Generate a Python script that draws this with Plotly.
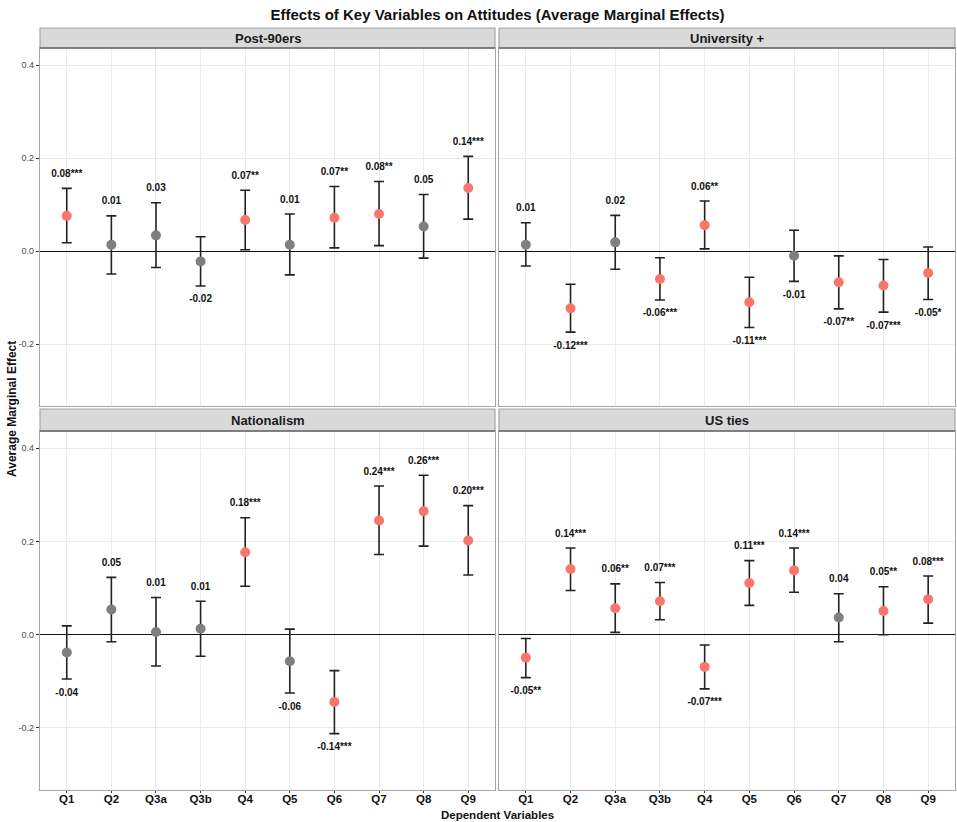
import plotly.graph_objects as go

categories = ["Q1", "Q2", "Q3a", "Q3b", "Q4", "Q5", "Q6", "Q7", "Q8", "Q9"]
panel_titles = ["Post-90ers", "University +", "Nationalism", "US ties"]

post90_est = [0.076, 0.014, 0.034, -0.022, 0.067, 0.014, 0.072, 0.080, 0.053, 0.136]
post90_lo = [0.018, -0.049, -0.035, -0.075, 0.003, -0.051, 0.007, 0.012, -0.015, 0.069]
post90_hi = [0.135, 0.076, 0.104, 0.031, 0.131, 0.080, 0.139, 0.150, 0.122, 0.204]
post90_lab = ["0.08***", "0.01", "0.03", "-0.02", "0.07**", "0.01", "0.07**", "0.08**", "0.05", "0.14***"]

univ_est = [0.014, -0.123, 0.019, -0.060, 0.056, -0.110, -0.010, -0.067, -0.074, -0.047]
univ_lo = [-0.032, -0.174, -0.039, -0.105, 0.005, -0.164, -0.065, -0.124, -0.131, -0.104]
univ_hi = [0.061, -0.071, 0.077, -0.014, 0.108, -0.056, 0.045, -0.010, -0.018, 0.009]
univ_lab = ["0.01", "-0.12***", "0.02", "-0.06***", "0.06**", "-0.11***", "-0.01", "-0.07**", "-0.07***", "-0.05*"]

nat_est = [-0.038, 0.054, 0.006, 0.013, 0.177, -0.057, -0.144, 0.245, 0.265, 0.202]
nat_lo = [-0.095, -0.015, -0.067, -0.046, 0.104, -0.125, -0.212, 0.172, 0.190, 0.128]
nat_hi = [0.019, 0.123, 0.080, 0.072, 0.251, 0.012, -0.077, 0.319, 0.342, 0.277]
nat_lab = ["-0.04", "0.05", "0.01", "0.01", "0.18***", "-0.06", "-0.14***", "0.24***", "0.26***", "0.20***"]

us_est = [-0.049, 0.141, 0.057, 0.072, -0.069, 0.111, 0.138, 0.037, 0.051, 0.076]
us_lo = [-0.092, 0.095, 0.005, 0.032, -0.116, 0.063, 0.091, -0.015, 0.000, 0.025]
us_hi = [-0.008, 0.186, 0.109, 0.112, -0.022, 0.159, 0.186, 0.088, 0.103, 0.126]
us_lab = ["-0.05**", "0.14***", "0.06**", "0.07***", "-0.07***", "0.11***", "0.14***", "0.04", "0.05**", "0.08***"]

panels = [
    (post90_est, post90_lo, post90_hi, post90_lab),
    (univ_est, univ_lo, univ_hi, univ_lab),
    (nat_est, nat_lo, nat_hi, nat_lab),
    (us_est, us_lo, us_hi, us_lab),
]

SIG = "#F8766D"
NS = "#7F7F7F"
FONT = "Liberation Sans, Arial, Helvetica, sans-serif"
LABEL_OFFSET = 0.03

fig = go.Figure()

W, H = 957, 822
ml, mr, mt, mb = 40, 2, 28, 32
pw, ph = W - ml - mr, H - mt - mb
def px_x(x): return (x - ml) / pw
def px_y(y): return (H - mb - y) / ph

xdoms = [[0, px_x(495)], [px_x(499), 1], [0, px_x(495)], [px_x(499), 1]]
ydoms = [[px_y(406), px_y(48)], [px_y(406), px_y(48)], [0, px_y(431)], [0, px_y(431)]]
strip_y = [[px_y(48), px_y(28)], [px_y(48), px_y(28)], [px_y(431), px_y(409)], [px_y(431), px_y(409)]]

yrange = [-0.333, 0.437]

for i, (est, lo, hi, lab) in enumerate(panels):
    sfx = "" if i == 0 else str(i + 1)
    xa, ya = "x" + sfx, "y" + sfx
    colors = [SIG if "*" in l else NS for l in lab]
    fig.add_trace(go.Scatter(
        x=categories, y=est, mode="markers", xaxis=xa, yaxis=ya,
        marker=dict(size=0.1, color="rgba(0,0,0,0)"),
        error_y=dict(type="data", symmetric=False,
                     array=[h - e for h, e in zip(hi, est)],
                     arrayminus=[e - l for e, l in zip(est, lo)],
                     color="#222222", thickness=1.6, width=5),
        showlegend=False, hoverinfo="skip"))
    fig.add_trace(go.Scatter(
        x=categories, y=est, mode="markers", xaxis=xa, yaxis=ya,
        marker=dict(size=10, color=colors, line=dict(width=0)),
        showlegend=False))
    ty = [h + LABEL_OFFSET if e >= 0 else l - LABEL_OFFSET for e, l, h in zip(est, lo, hi)]
    fig.add_trace(go.Scatter(
        x=categories, y=ty, mode="text", text=lab, xaxis=xa, yaxis=ya,
        textfont=dict(family=FONT, size=10, color="#111111", weight="bold"),
        textposition="middle center", showlegend=False, hoverinfo="skip"))

    bottom = i >= 2
    left = i % 2 == 0
    fig.layout["xaxis" + sfx] = dict(
        domain=xdoms[i], anchor=ya, type="category",
        categoryorder="array", categoryarray=categories,
        range=[-0.6, 9.6], showgrid=True, gridcolor="#EBEBEB", gridwidth=1,
        showline=True, linecolor="#A6A6A6", linewidth=1.2, mirror=True,
        zeroline=False,
        ticks="outside" if bottom else "", ticklen=2, tickcolor="#333333",
        ticklabelstandoff=-4,
        showticklabels=bottom,
        tickfont=dict(family=FONT, size=11.5, color="#111111", weight="bold"),
    )
    fig.layout["yaxis" + sfx] = dict(
        domain=ydoms[i], anchor=xa, range=yrange,
        tickvals=[-0.2, 0.0, 0.2, 0.4], ticktext=["-0.2", "0.0", "0.2", "0.4"],
        showgrid=True, gridcolor="#EBEBEB", gridwidth=1,
        showline=True, linecolor="#A6A6A6", linewidth=1.2, mirror=True,
        zeroline=True, zerolinecolor="#111111", zerolinewidth=1.2,
        ticks="outside" if left else "", ticklen=3, tickcolor="#333333",
        showticklabels=left,
        tickfont=dict(family=FONT, size=9, color="#4D4D4D"),
    )
    fig.add_shape(type="rect", xref="paper", yref="paper",
                  x0=xdoms[i][0], x1=xdoms[i][1], y0=strip_y[i][0], y1=strip_y[i][1],
                  fillcolor="#D9D9D9", line=dict(color="#A6A6A6", width=1.2), layer="above")
    fig.add_shape(type="line", xref="paper", yref="paper",
                  x0=xdoms[i][0], x1=xdoms[i][1], y0=strip_y[i][0], y1=strip_y[i][0],
                  line=dict(color="#666666", width=1.5), layer="above")
    fig.add_annotation(xref="paper", yref="paper",
                       x=(xdoms[i][0] + xdoms[i][1]) / 2, y=(strip_y[i][0] + strip_y[i][1]) / 2,
                       text=panel_titles[i], showarrow=False,
                       font=dict(family=FONT, size=13, color="#1A1A1A", weight="bold"),
                       xanchor="center", yanchor="middle")

fig.add_annotation(xref="paper", yref="paper", x=0.5, y=px_y(815),
                   text="Dependent Variables", showarrow=False,
                   font=dict(family=FONT, size=11.5, color="#111111", weight="bold"),
                   xanchor="center", yanchor="middle")
fig.add_annotation(xref="paper", yref="paper", x=px_x(12), y=px_y(409),
                   text="Average Marginal Effect", showarrow=False, textangle=-90,
                   font=dict(family=FONT, size=12, color="#111111", weight="bold"),
                   xanchor="center", yanchor="middle")

fig.update_layout(
    width=W, height=H,
    margin=dict(l=ml, r=mr, t=mt, b=mb),
    paper_bgcolor="white", plot_bgcolor="white",
    title=dict(text="Effects of Key Variables on Attitudes (Average Marginal Effects)",
               x=0.5, xref="paper", y=1 - 15 / H, yref="container", yanchor="middle",
               xanchor="center",
               font=dict(family=FONT, size=15, color="#111111", weight="bold")),
    showlegend=False,
)

fig.write_html("out.html", config={"displayModeBar": False},
               post_script="document.body.style.margin='0';document.body.style.overflow='hidden';")
